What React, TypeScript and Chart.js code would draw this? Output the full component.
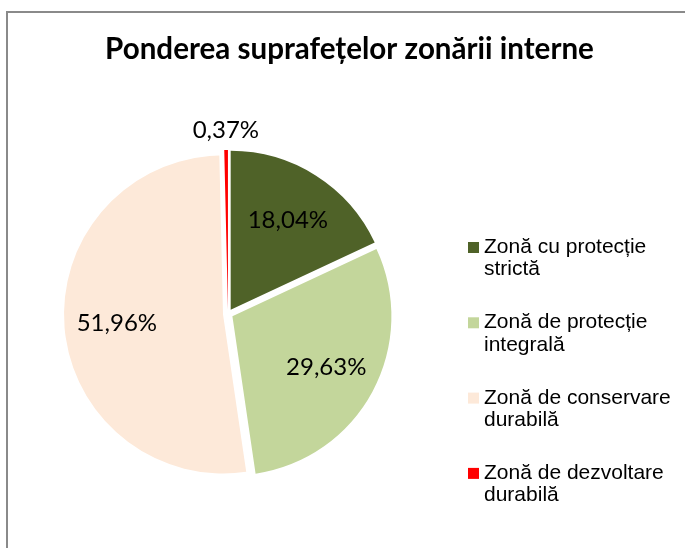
import React, { useEffect, useRef } from "react";
import { Chart, registerables } from "chart.js";

Chart.register(...registerables);

const TITLE = "Ponderea suprafețelor zonării interne";
const categories = [
  "Zonă cu protecție strictă",
  "Zonă de protecție integrală",
  "Zonă de conservare durabilă",
  "Zonă de dezvoltare durabilă",
];
const shares = [18.04, 29.63, 51.96, 0.37];
const sliceColors = ["#4F6228", "#C3D69B", "#FDE9D9", "#FF0000"];

const EXPLODE = 5;
const LABEL_FONT = "24px Lato, 'Open Sans', sans-serif";
const LEGEND_FONT = "21px 'Liberation Sans', Arial, sans-serif";
const TITLE_FAMILY = "Lato, 'Open Sans', sans-serif";

const fmt = (v: number) => v.toFixed(2).replace(".", ",") + "%";

const explodePlugin = {
  id: "explodeSlices",
  beforeDatasetsDraw(chart: any) {
    const ca = chart.chartArea;
    const cx = (ca.left + ca.right) / 2;
    const cy = (ca.top + ca.bottom) / 2;
    const meta = chart.getDatasetMeta(0);
    meta.data.forEach((arc: any) => {
      const mid = (arc.startAngle + arc.endAngle) / 2;
      arc.x = cx + Math.cos(mid) * EXPLODE;
      arc.y = cy + Math.sin(mid) * EXPLODE;
    });
  },
};

const labelsPlugin = {
  id: "sliceLabels",
  afterDatasetsDraw(chart: any) {
    const ctx = chart.ctx;
    const meta = chart.getDatasetMeta(0);
    const data = chart.data.datasets[0].data as number[];
    ctx.save();
    ctx.font = LABEL_FONT;
    ctx.fillStyle = "#000";
    ctx.textAlign = "center";
    ctx.textBaseline = "middle";
    meta.data.forEach((arc: any, i: number) => {
      const mid = (arc.startAngle + arc.endAngle) / 2;
      const R = arc.outerRadius;
      const dist = data[i] > 5 ? R * 0.67 : R + 20;
      const x = arc.x + Math.cos(mid) * dist;
      const y = arc.y + Math.sin(mid) * dist;
      ctx.fillText(fmt(data[i]), x, y);
    });
    ctx.restore();
  },
};

const wrap = (ctx: CanvasRenderingContext2D, text: string, maxW: number) => {
  const words = text.split(" ");
  const lines: string[] = [];
  let cur = "";
  words.forEach((w) => {
    const t = cur ? cur + " " + w : w;
    if (ctx.measureText(t).width > maxW && cur) {
      lines.push(cur);
      cur = w;
    } else cur = t;
  });
  if (cur) lines.push(cur);
  return lines;
};

const decorPlugin = {
  id: "decor",
  afterDraw(chart: any) {
    const ctx = chart.ctx as CanvasRenderingContext2D;
    ctx.save();
    // Title
    ctx.font = `bold 24px ${TITLE_FAMILY}`;
    const w24 = ctx.measureText(TITLE).width;
    const size = Math.max(18, Math.min(30, (24 * 489) / w24));
    ctx.font = `bold ${size}px ${TITLE_FAMILY}`;
    ctx.fillStyle = "#000";
    ctx.textAlign = "center";
    ctx.textBaseline = "alphabetic";
    ctx.fillText(TITLE, 349.5, 59);

    // Legend
    ctx.font = LEGEND_FONT;
    ctx.textAlign = "left";
    const labels = chart.data.labels as string[];
    const bg = chart.data.datasets[0].backgroundColor as string[];
    const firstBaseline = 253;
    const itemStep = 75.3;
    const lineH = 22.3;
    labels.forEach((lab, i) => {
      const base = firstBaseline + i * itemStep;
      ctx.fillStyle = bg[i];
      ctx.fillRect(468, base - 11, 11, 11);
      ctx.fillStyle = "#000";
      wrap(ctx, lab, 195).forEach((ln, j) => {
        ctx.fillText(ln, 484, base + j * lineH);
      });
    });
    ctx.restore();
  },
};

export default function App() {
  const ref = useRef<HTMLCanvasElement | null>(null);

  useEffect(() => {
    let chart: Chart | null = null;
    let cancelled = false;
    const make = () => {
      if (cancelled || !ref.current) return;
      chart = new Chart(ref.current, {
        type: "pie",
        data: {
          labels: categories,
          datasets: [
            {
              data: shares,
              backgroundColor: sliceColors,
              borderWidth: 0,
              hoverOffset: 0,
            },
          ],
        },
        options: {
          responsive: false,
          animation: false,
          devicePixelRatio: 1,
          layout: { padding: { left: 69, right: 298, top: 155, bottom: 75 } },
          plugins: {
            legend: { display: false },
            title: { display: false },
            tooltip: { enabled: false },
          },
          events: [],
        },
        plugins: [explodePlugin, labelsPlugin, decorPlugin],
      });
    };
    const fonts = (document as any).fonts;
    if (fonts && fonts.load) {
      Promise.all([
        fonts.load(`bold 24px Lato`),
        fonts.load(`24px Lato`),
        fonts.load(`21px "Liberation Sans"`),
      ])
        .catch(() => null)
        .then(make);
    } else make();
    return () => {
      cancelled = true;
      if (chart) chart.destroy();
    };
  }, []);

  return (
    <div
      style={{
        position: "fixed",
        left: 0,
        top: 0,
        width: 685,
        height: 548,
        overflow: "hidden",
        background: "#fff",
      }}
    >
      <div
        style={{
          position: "absolute",
          left: 6,
          top: 11,
          width: 760,
          height: 620,
          border: "2px solid #8a8a8a",
          boxSizing: "border-box",
        }}
      />
      <canvas
        ref={ref}
        width={685}
        height={548}
        style={{ position: "absolute", left: 0, top: 0, width: 685, height: 548 }}
      />
    </div>
  );
}
